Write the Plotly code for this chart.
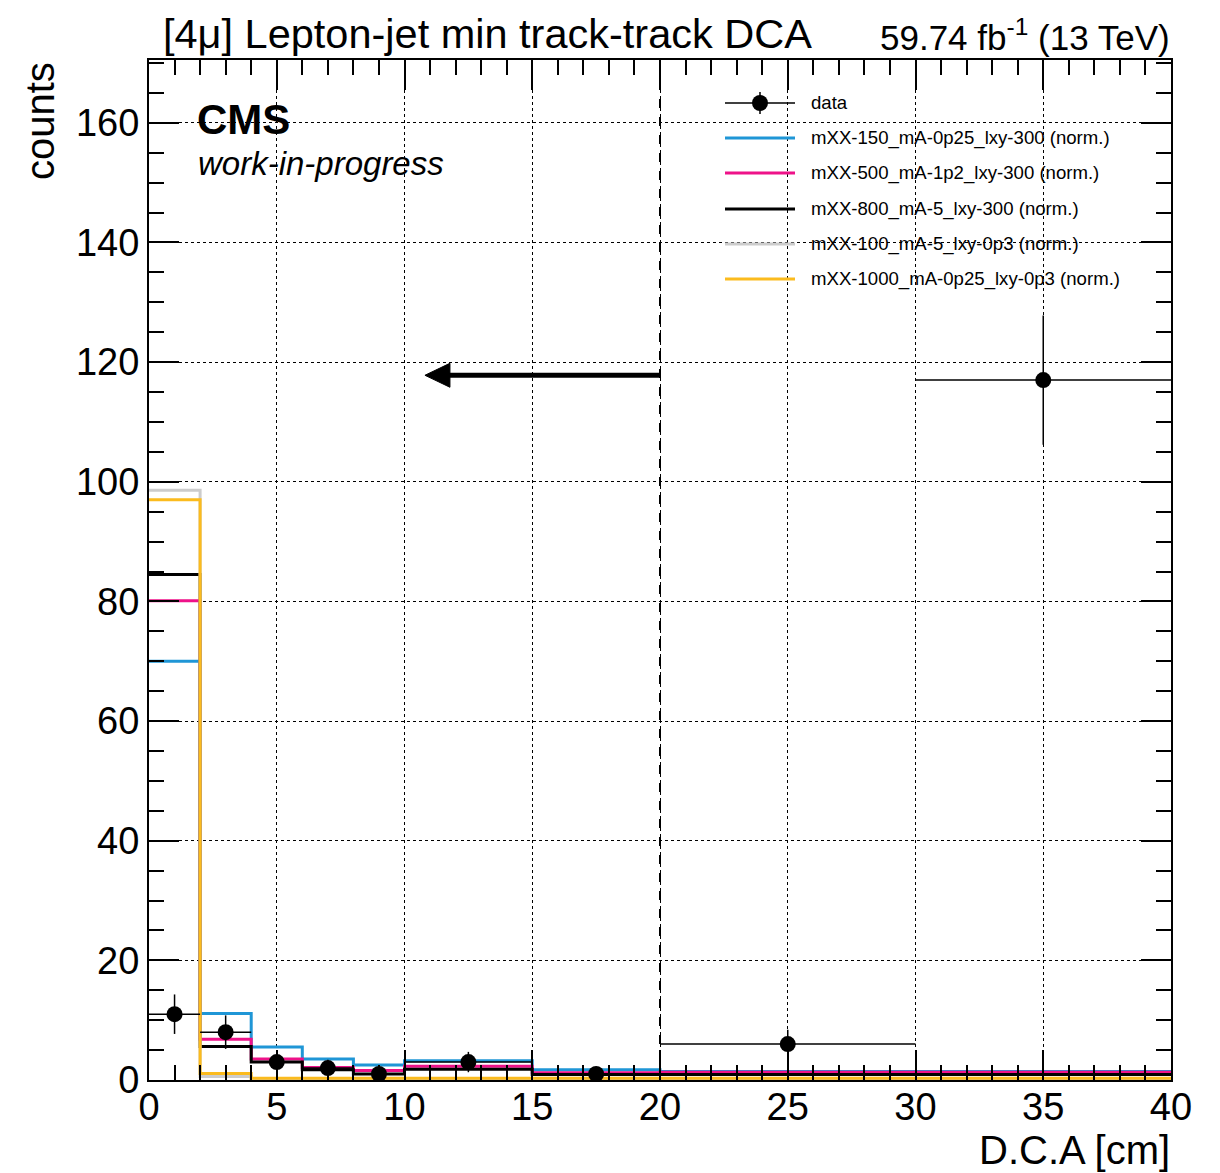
import plotly.graph_objects as go

# ---------------- data ----------------
bin_edges = [0, 2, 4, 6, 8, 10, 15, 20, 30, 40]
bin_centers = [1, 3, 5, 7, 9, 12.5, 17.5, 25, 35]
bin_halfwidths = [1, 1, 1, 1, 1, 2.5, 2.5, 5, 5]

data_counts = [11, 8, 3, 2, 1, 3, 1, 6, 117]
data_errors = [3.3, 2.8, 1.7, 1.4, 1.0, 1.7, 1.0, 2.4, 10.8]

sig_names = [
    "mXX-150_mA-0p25_lxy-300 (norm.)",
    "mXX-500_mA-1p2_lxy-300 (norm.)",
    "mXX-800_mA-5_lxy-300 (norm.)",
    "mXX-100_mA-5_lxy-0p3 (norm.)",
    "mXX-1000_mA-0p25_lxy-0p3 (norm.)",
]
sig_blue = [70.0, 11.1, 5.5, 3.5, 2.5, 3.2, 1.7, 1.4, 1.4]
sig_magenta = [80.1, 6.8, 3.5, 2.1, 1.6, 2.3, 1.2, 1.3, 1.3]
sig_black = [84.5, 5.6, 3.0, 1.7, 1.0, 1.8, 0.9, 0.9, 0.9]
sig_grey = [98.6, 0.6, 0.2, 0.2, 0.2, 0.2, 0.2, 0.2, 0.2]
sig_yellow = [97.0, 1.1, 0.3, 0.3, 0.3, 0.3, 0.3, 0.3, 0.3]

x_ticks = [0, 5, 10, 15, 20, 25, 30, 35, 40]
y_ticks = [0, 20, 40, 60, 80, 100, 120, 140, 160]

cut_value = 20
arrow_tip = 10.8
arrow_y = 117.8

# ---------------- styles ----------------
sig_values = [sig_blue, sig_magenta, sig_black, sig_grey, sig_yellow]
sig_colors = ["#1f96d6", "#ee1289", "#000000", "#cccccc", "#fbbb1e"]
FONT = "Liberation Sans, Arial, Helvetica, sans-serif"

W, H = 1220, 1173
L, R, T, B = 149, 49, 60, 93
PW = W - L - R
PH = H - T - B


def px(x):
    return (x - L) / PW


def py(y):
    return (H - B - y) / PH


fig = go.Figure()

for vals, col, name in zip(sig_values, sig_colors, sig_names):
    fig.add_trace(go.Scatter(
        x=bin_edges,
        y=vals + [vals[-1]],
        mode="lines",
        line=dict(shape="hv", color=col, width=3),
        name=name,
        hoverinfo="skip",
    ))

fig.add_trace(go.Scatter(
    x=bin_centers,
    y=data_counts,
    mode="markers",
    marker=dict(color="black", size=16, symbol="circle"),
    error_x=dict(type="data", array=bin_halfwidths, width=0, thickness=1.5, color="black"),
    error_y=dict(type="data", array=data_errors, width=0, thickness=1.5, color="black"),
    name="data",
))

shapes = []
annotations = []

# cut line and arrow
shapes.append(dict(type="line", xref="x", yref="paper", x0=cut_value, x1=cut_value,
                   y0=0, y1=1, line=dict(color="black", width=2, dash="dash")))
shapes.append(dict(type="line", xref="x", yref="y", x0=cut_value, x1=arrow_tip + 0.9,
                   y0=arrow_y, y1=arrow_y, line=dict(color="black", width=5)))
shapes.append(dict(type="path", xref="x", yref="y", xsizemode="pixel", ysizemode="pixel",
                   xanchor=arrow_tip, yanchor=arrow_y,
                   path="M 0 0 L 25 12 L 25 -12 Z",
                   fillcolor="black", line=dict(color="black", width=1)))

# legend (drawn manually)
leg_x0, leg_x1, leg_text_x = 725, 795, 809
leg_rows = [103, 138, 173, 209, 244, 279]
LEG_FONT = 18.6
# data entry
shapes.append(dict(type="line", xref="paper", yref="paper",
                   x0=px(leg_x0), x1=px(leg_x1), y0=py(leg_rows[0]), y1=py(leg_rows[0]),
                   line=dict(color="black", width=1.5)))
shapes.append(dict(type="line", xref="paper", yref="paper",
                   x0=px(760), x1=px(760), y0=py(leg_rows[0] - 11), y1=py(leg_rows[0] + 11),
                   line=dict(color="black", width=1.5)))
shapes.append(dict(type="circle", xref="paper", yref="paper",
                   x0=px(760 - 8), x1=px(760 + 8), y0=py(leg_rows[0] - 8), y1=py(leg_rows[0] + 8),
                   fillcolor="black", line=dict(color="black", width=0)))
annotations.append(dict(text="data", xref="paper", yref="paper", x=px(leg_text_x),
                        y=py(leg_rows[0]), xanchor="left", yanchor="middle", showarrow=False,
                        font=dict(family=FONT, size=LEG_FONT, color="black")))
for name, col, row in zip(sig_names, sig_colors, leg_rows[1:]):
    shapes.append(dict(type="line", xref="paper", yref="paper",
                       x0=px(leg_x0), x1=px(leg_x1), y0=py(row), y1=py(row),
                       line=dict(color=col, width=3)))
    annotations.append(dict(text=name, xref="paper", yref="paper", x=px(leg_text_x),
                            y=py(row), xanchor="left", yanchor="middle", showarrow=False,
                            font=dict(family=FONT, size=LEG_FONT, color="black")))

# texts
annotations += [
    dict(text="[4\u03bc] Lepton-jet min track-track DCA", xref="paper", yref="paper",
         x=px(161), y=py(33), xanchor="left", yanchor="middle", showarrow=False,
         font=dict(family=FONT, size=41.5, color="black")),
    dict(text="59.74 fb<sup>-1</sup> (13 TeV)", xref="paper", yref="paper",
         x=px(1172), y=py(35), xanchor="right", yanchor="middle", showarrow=False,
         font=dict(family=FONT, size=35, color="black")),
    dict(text="<b>CMS</b>", xref="paper", yref="paper",
         x=px(195), y=py(119), xanchor="left", yanchor="middle", showarrow=False,
         font=dict(family=FONT, size=42, color="black")),
    dict(text="<i>work-in-progress</i>", xref="paper", yref="paper",
         x=px(196), y=py(164), xanchor="left", yanchor="middle", showarrow=False,
         font=dict(family=FONT, size=33, color="black")),
    dict(text="counts", xref="paper", yref="paper", textangle=-90,
         x=px(40), y=py(60), xanchor="center", yanchor="top", showarrow=False,
         font=dict(family=FONT, size=40, color="black")),
    dict(text="D.C.A [cm]", xref="paper", yref="paper",
         x=px(1172), y=py(1150), xanchor="right", yanchor="middle", showarrow=False,
         font=dict(family=FONT, size=40, color="black")),
]

axis_common = dict(
    showline=True, linecolor="black", linewidth=2, mirror="allticks",
    ticks="inside", ticklen=30, tickwidth=1.5, tickcolor="black",
    showgrid=True, gridcolor="black", gridwidth=1, griddash="dot",
    zeroline=False,
    tickfont=dict(family=FONT, size=38, color="black"),
)

fig.update_xaxes(range=[0, 40], tickvals=x_ticks, ticklabelstandoff=-8,
                 minor=dict(dtick=1, ticks="inside", ticklen=15, tickwidth=1.5,
                            tickcolor="black", showgrid=False),
                 **axis_common)
fig.update_yaxes(range=[0, 170.5], tickvals=y_ticks,
                 minor=dict(dtick=5, ticks="inside", ticklen=15, tickwidth=1.5,
                            tickcolor="black", showgrid=False),
                 **axis_common)

fig.update_layout(
    width=W, height=H,
    margin=dict(l=L, r=R, t=T, b=B, pad=0),
    plot_bgcolor="white", paper_bgcolor="white",
    showlegend=False,
    shapes=shapes,
    annotations=annotations,
    font=dict(family=FONT, color="black"),
)

fig.write_html("out.html")
